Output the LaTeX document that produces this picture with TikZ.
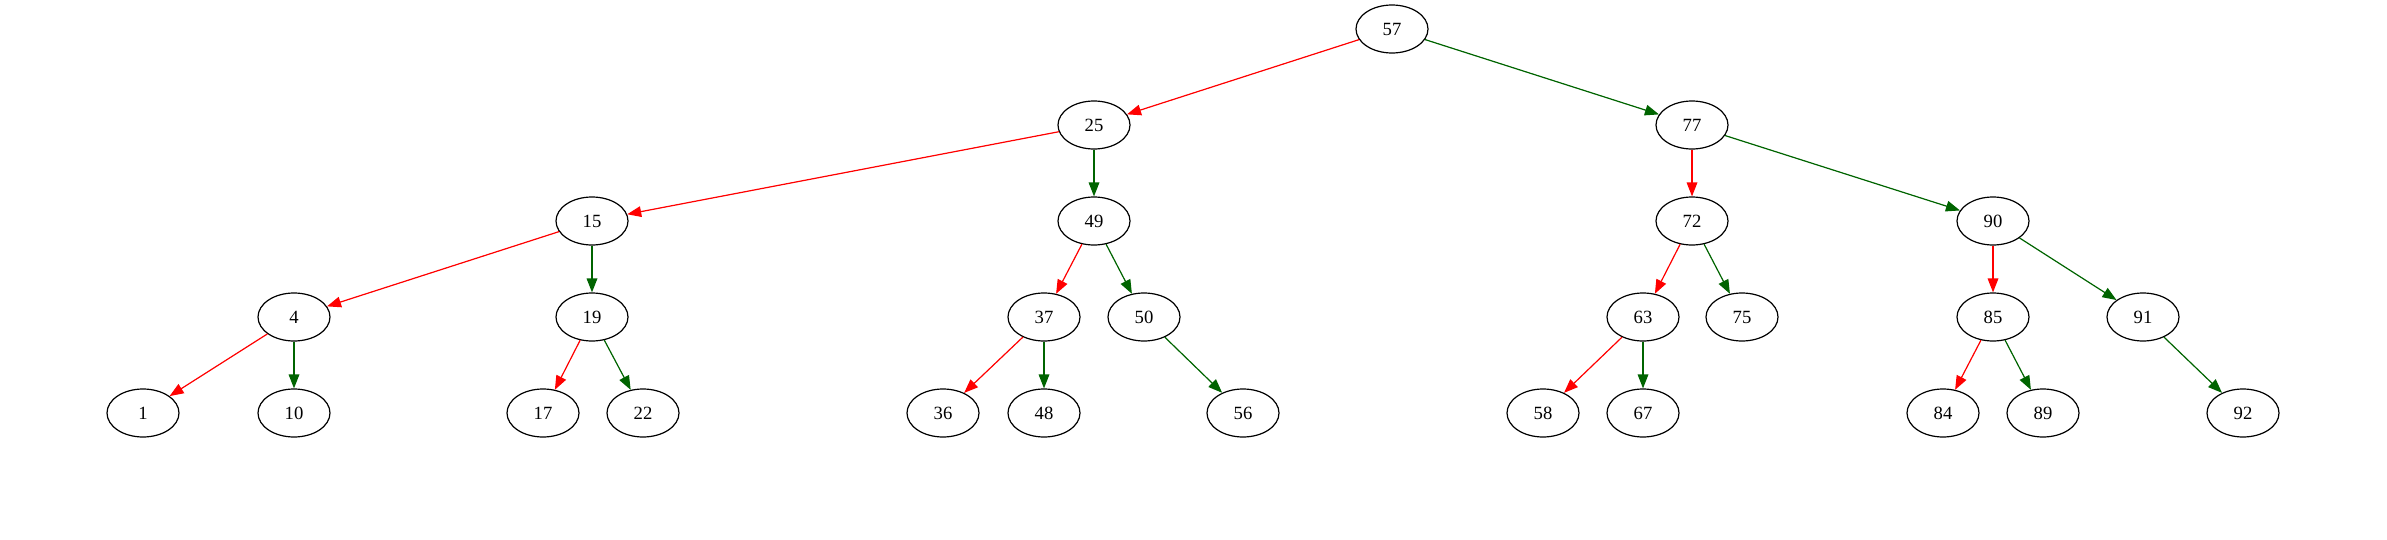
\documentclass[tikz,border=0pt]{standalone}
\usepackage{fontspec}
\setmainfont{Liberation Serif}
\usepackage{tikz}
\usetikzlibrary{shapes}
\usetikzlibrary{arrows.meta}
\definecolor{edgegreen}{RGB}{0,100,0}
\tikzset{tree node/.style={ellipse, draw, line width=0.9pt,
    minimum width=54pt, minimum height=36pt, inner sep=0pt,
    font=\fontsize{14}{16}\selectfont}}
\tikzset{tree edge/.style={line width=0.9pt, -{Triangle[length=10.5pt,width=8pt]}}}
\tikzset{left edge/.style={tree edge, draw=red, fill=red}}
\tikzset{right edge/.style={tree edge, draw=edgegreen, fill=edgegreen}}

\begin{document}
\begin{tikzpicture}
      [x=0.75pt, y=-0.75pt]
      \useasboundingbox (0, 0) rectangle (2387, 539);

      \node [tree node] (n57) at (1392,  29) {57};

      \node [tree node] (n25) at (1094, 125) {25};
      \node [tree node] (n77) at (1692, 125) {77};

      \node [tree node] (n15) at ( 592, 221) {15};
      \node [tree node] (n49) at (1094, 221) {49};
      \node [tree node] (n72) at (1692, 221) {72};
      \node [tree node] (n90) at (1993, 221) {90};

      \node [tree node] (n4)  at ( 294, 317) {4};
      \node [tree node] (n19) at ( 592, 317) {19};
      \node [tree node] (n37) at (1044, 317) {37};
      \node [tree node] (n50) at (1144, 317) {50};
      \node [tree node] (n63) at (1643, 317) {63};
      \node [tree node] (n75) at (1742, 317) {75};
      \node [tree node] (n85) at (1993, 317) {85};
      \node [tree node] (n91) at (2143, 317) {91};

      \node [tree node] (n1)  at ( 143, 413) {1};
      \node [tree node] (n10) at ( 294, 413) {10};
      \node [tree node] (n17) at ( 543, 413) {17};
      \node [tree node] (n22) at ( 643, 413) {22};
      \node [tree node] (n36) at ( 943, 413) {36};
      \node [tree node] (n48) at (1044, 413) {48};
      \node [tree node] (n56) at (1243, 413) {56};
      \node [tree node] (n58) at (1543, 413) {58};
      \node [tree node] (n67) at (1643, 413) {67};
      \node [tree node] (n84) at (1943, 413) {84};
      \node [tree node] (n89) at (2043, 413) {89};
      \node [tree node] (n92) at (2243, 413) {92};

      \draw [left edge]  (n57) to (n25);
      \draw [right edge] (n57) to (n77);
      \draw [left edge]  (n25) to (n15);
      \draw [right edge] (n25) to (n49);
      \draw [left edge]  (n77) to (n72);
      \draw [right edge] (n77) to (n90);
      \draw [left edge]  (n15) to (n4);
      \draw [right edge] (n15) to (n19);
      \draw [left edge]  (n49) to (n37);
      \draw [right edge] (n49) to (n50);
      \draw [left edge]  (n72) to (n63);
      \draw [right edge] (n72) to (n75);
      \draw [left edge]  (n90) to (n85);
      \draw [right edge] (n90) to (n91);
      \draw [left edge]  (n4)  to (n1);
      \draw [right edge] (n4)  to (n10);
      \draw [left edge]  (n19) to (n17);
      \draw [right edge] (n19) to (n22);
      \draw [left edge]  (n37) to (n36);
      \draw [right edge] (n37) to (n48);
      \draw [right edge] (n50) to (n56);
      \draw [left edge]  (n63) to (n58);
      \draw [right edge] (n63) to (n67);
      \draw [left edge]  (n85) to (n84);
      \draw [right edge] (n85) to (n89);
      \draw [right edge] (n91) to (n92);
    \end{tikzpicture}
\end{document}
